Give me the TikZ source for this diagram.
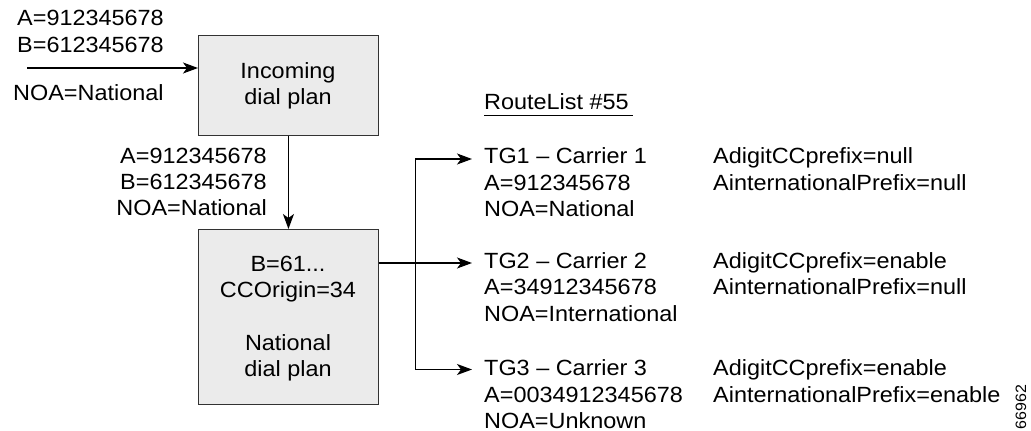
\documentclass[tikz,border=0pt]{standalone}
\usepackage{fontspec}
\setmainfont[FakeStretch=1.065]{Liberation Sans}
\usetikzlibrary{arrows.meta}
\definecolor{boxfill}{RGB}{235,235,235}
\definecolor{boxline}{RGB}{50,50,50}
\tikzset{
  txt/.style={font=\fontsize{22}{26.4}\selectfont, inner sep=0pt},
  plan/.style={draw=boxline, line width=0.9pt, fill=boxfill},
  arr/.style={line width=1.3pt, -{Stealth[length=15pt,width=11pt,inset=4pt]}},
  wire/.style={line width=1.3pt}
}
\begin{document}
\begin{tikzpicture}[x=1pt,y=-1pt]
\useasboundingbox (0,0) rectangle (1031,431);

% dial plan boxes
\node[plan, minimum width=180pt, minimum height=100pt, anchor=north west] (inc) at (198,35) {};
\node[plan, minimum width=180pt, minimum height=175pt, anchor=north west] (nat) at (198,229) {};
\node[txt, align=center, anchor=north] (inctxt) at (288,62) {Incoming\\dial plan};
\node[txt, align=center, anchor=north] (nattxt) at (288,255.5) {B=61...\\CCOrigin=34\\[26.4pt]National\\dial plan};

% incoming call
\node[txt, align=left, anchor=north west] (inab) at (17,10.3) {A=912345678\\B=612345678};
\node[txt, anchor=base west] (innoa) at (13,100) {NOA=National};
\coordinate (src) at (27,68);
\draw[arr] (src) -- (src -| inc.west);

% incoming to national
\draw[arr] (inc.south) -- (nat.north);
\node[txt, align=right, anchor=north east] (midlbl) at (267,147.5) {A=912345678\\B=612345678\\NOA=National};

% route list
\node[txt, anchor=base west] (rl) at (484,109) {RouteList \#55};
\draw[line width=1pt] (rl.base west) ++(0,6) -- ++(149,0);

\node[txt, align=left, anchor=north west] (tg1) at (484,147.5) {TG1 -- Carrier 1\\A=912345678\\NOA=National};
\node[txt, align=left, anchor=north west] (tg2) at (484,252.2) {TG2 -- Carrier 2\\A=34912345678\\NOA=International};
\node[txt, align=left, anchor=north west] (tg3) at (484,359.5) {TG3 -- Carrier 3\\A=0034912345678\\NOA=Unknown};

\node[txt, align=left, anchor=north west] (p1) at (713,147.5) {AdigitCCprefix=null\\AinternationalPrefix=null};
\node[txt, align=left, anchor=north west] (p2) at (713,252.2) {AdigitCCprefix=enable\\AinternationalPrefix=null};
\node[txt, align=left, anchor=north west] (p3) at (713,359.5) {AdigitCCprefix=enable\\AinternationalPrefix=enable};

% national plan to trunk groups
\coordinate (split) at (415.7,263);
\coordinate (t1) at (472,159);
\coordinate (t2) at (472,263);
\coordinate (t3) at (472,369.5);
\draw[wire] (split -| nat.east) -- (split);
\draw[arr] (split) -- (t2);
\draw[arr] (split) |- (t1);
\draw[arr] (split) |- (t3);

\node[font=\fontsize{15}{15}\selectfont, inner sep=0pt, rotate=90] (fig) at (1021,407) {66962};
\end{tikzpicture}
\end{document}
